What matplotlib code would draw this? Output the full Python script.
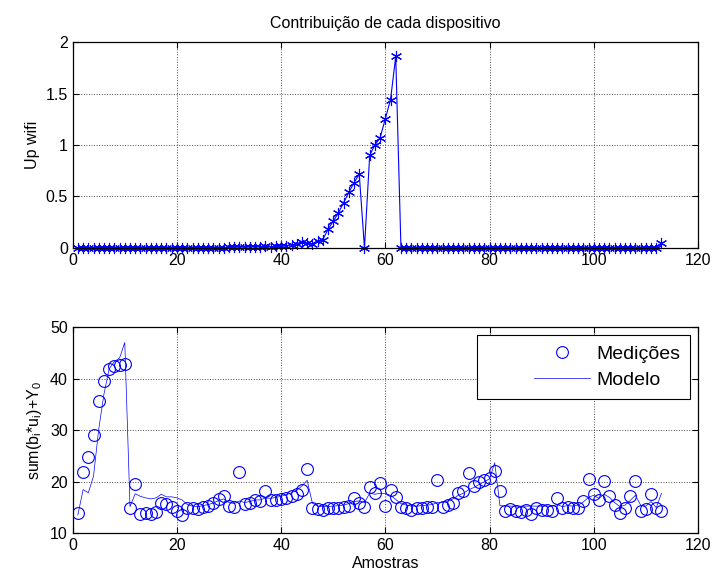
import matplotlib

matplotlib.use("Agg")
import matplotlib.pyplot as plt
import matplotlib.transforms as mtransforms
from matplotlib.legend_handler import HandlerLine2D
import numpy as np

plt.rcParams["font.family"] = ["Liberation Sans", "DejaVu Sans"]
plt.rcParams["mathtext.fontset"] = "custom"
plt.rcParams["mathtext.rm"] = "Liberation Sans"
plt.rcParams["mathtext.it"] = "Liberation Sans"

amostras = np.arange(1, 114)

# contribution of the wifi uplink (top panel)
up_wifi = [0.0] * 29 + [
    0.005, 0.005, 0.01, 0.005, 0.01, 0.01, 0.01, 0.015, 0.01, 0.015,  # 30-39
    0.015, 0.02, 0.03, 0.04, 0.06, 0.05, 0.04, 0.07, 0.08, 0.18,      # 40-49
    0.26, 0.34, 0.44, 0.54, 0.635, 0.715, 0.0, 0.90, 1.0, 1.07,       # 50-59
    1.255, 1.44, 1.86,                                                # 60-62
] + [0.0] * 50 + [0.05]

# measured output (circles)
medicoes = [
    13.9, 21.9, 24.8, 29.0, 35.7, 39.5, 41.9, 42.4, 42.6, 42.9,
    15.0, 19.5, 13.7, 13.9, 13.7, 14.1, 16.0, 15.7, 15.2, 14.3,
    13.5, 15.0, 14.9, 14.8, 15.1, 15.4, 15.9, 16.7, 17.3, 15.4,
    15.2, 22.0, 15.7, 16.0, 16.4, 16.2, 18.3, 16.4, 16.4, 16.6,
    16.9, 17.2, 17.7, 18.5, 22.5, 14.9, 14.7, 14.5, 14.9, 14.9,
    14.9, 15.2, 15.4, 16.8, 15.9, 15.2, 19.1, 17.9, 19.8, 15.3,
    18.4, 17.0, 15.2, 14.9, 14.6, 14.9, 15.0, 15.2, 15.2, 20.3,
    15.2, 15.5, 16.0, 17.8, 18.2, 21.7, 19.2, 19.9, 20.3, 20.8,
    22.1, 18.2, 14.3, 14.8, 14.4, 14.2, 14.5, 13.7, 15.0, 14.6,
    14.6, 14.3, 16.9, 14.9, 15.2, 14.9, 14.9, 16.2, 20.6, 17.7,
    16.4, 20.1, 17.2, 15.6, 13.9, 14.9, 17.2, 20.2, 14.4, 14.8,
    17.7, 14.9, 14.3,
]

# model output (line)
modelo = [
    13.6, 18.5, 17.9, 21.1, 30.2, 37.0, 41.9, 43.3, 44.0, 47.0,
    15.2, 17.7, 17.2, 16.9, 16.7, 16.9, 17.6, 17.1, 17.1, 16.9,
    16.5, 15.6, 15.3, 15.2, 15.4, 15.6, 15.9, 16.4, 16.7, 16.0,
    15.8, 16.3, 16.0, 16.2, 16.5, 16.5, 16.9, 16.8, 17.0, 17.2,
    17.5, 17.9, 18.4, 19.2, 20.3, 15.9, 15.3, 15.2, 15.2, 15.3,
    15.4, 15.5, 15.8, 16.2, 16.3, 16.0, 17.8, 17.6, 17.8, 17.7,
    17.4, 16.6, 15.8, 15.5, 15.3, 15.3, 15.4, 15.5, 15.6, 16.0,
    16.0, 16.3, 16.7, 17.4, 17.8, 18.5, 18.9, 19.5, 20.0, 20.6,
    23.7, 15.4, 15.3, 15.3, 15.3, 15.3, 15.3, 15.3, 15.3, 15.3,
    15.3, 15.3, 15.6, 15.2, 15.4, 15.3, 15.5, 16.1, 17.0, 17.4,
    16.8, 17.6, 17.0, 16.0, 15.2, 15.5, 16.4, 17.4, 15.5, 15.3,
    16.2, 15.0, 17.8,
]

xticks = [0, 20, 40, 60, 80, 100, 120]
blue = (0, 0, 1)


class RightAlignedHandler(HandlerLine2D):
    """Legend sample drawn in the right part of the handle box, leaving a blank left margin."""

    def __init__(self, frac=0.45, **kw):
        super().__init__(**kw)
        self.frac = frac

    def create_artists(self, legend, orig_handle, xdescent, ydescent,
                       width, height, fontsize, trans):
        shift = width * self.frac
        arts = super().create_artists(legend, orig_handle, xdescent, ydescent,
                                      width - shift, height, fontsize, trans)
        moved = mtransforms.Affine2D().translate(shift, 0) + trans
        for a in arts:
            a.set_transform(moved)
        return arts


def style_axes(ax):
    ax.set_xlim(0, 120)
    ax.set_xticks(xticks)
    ax.grid(True, linestyle=":", color="0.3", linewidth=0.7)
    ax.tick_params(direction="in", top=True, right=True, labelsize=11.5,
                   length=4, width=0.8)
    for sp in ax.spines.values():
        sp.set_linewidth(0.9)


fig = plt.figure(figsize=(7.16, 5.84), dpi=100)

ax1 = fig.add_axes([0.1015, 0.5755, 0.8733, 0.3525])
ax1.plot(amostras, up_wifi, color=blue, linewidth=0.8,
         marker=(6, 2, 0), markersize=8, markeredgewidth=0.8, clip_on=False)
ax1.set_ylim(0, 2)
ax1.set_yticks([0, 0.5, 1, 1.5, 2])
ax1.set_yticklabels(["0", "0.5", "1", "1.5", "2"])
ax1.set_ylabel("Up wifi", fontsize=11.5)
ax1.set_title("Contribuição de cada dispositivo", fontsize=11.5, pad=10)
style_axes(ax1)

ax2 = fig.add_axes([0.1015, 0.0865, 0.8733, 0.3535])
h_med, = ax2.plot(amostras, medicoes, linestyle="none", marker="o",
                  markersize=8.5, markerfacecolor="none", markeredgecolor=blue,
                  markeredgewidth=0.8, label="Medições")
h_mod, = ax2.plot(amostras, modelo, color=blue, linewidth=0.5, label="Modelo")
ax2.set_ylim(10, 50)
ax2.set_yticks([10, 20, 30, 40, 50])
ax2.set_ylabel("sum(b$_i$*u$_i$)+Y$_0$", fontsize=11.5)
ax2.set_xlabel("Amostras", fontsize=11.5, labelpad=2)
style_axes(ax2)

leg = ax2.legend(loc="upper right", fontsize=14, fancybox=False,
                 edgecolor="black", framealpha=1, handlelength=5.3,
                 handletextpad=0.3, borderaxespad=0.42, borderpad=0.5,
                 labelspacing=0.45,
                 handler_map={h_med: RightAlignedHandler(),
                              h_mod: RightAlignedHandler()})
leg.get_frame().set_linewidth(0.8)

fig.savefig("out.png", dpi=100)
